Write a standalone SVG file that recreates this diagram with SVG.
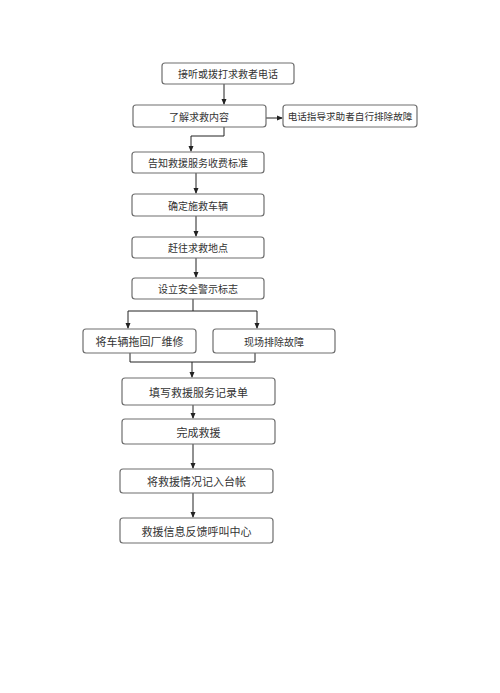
<svg xmlns="http://www.w3.org/2000/svg" width="500" height="693" viewBox="0 0 500 693">
<defs>
<marker id="ah" markerWidth="6" markerHeight="6" refX="5" refY="3" orient="auto" markerUnits="userSpaceOnUse">
<path d="M0,0.5 L6,3 L0,5.5 Z" fill="#222"/>
</marker>
<style>
.b{fill:#fff;stroke:#6e6e6e;stroke-width:1.2}
.t{font-family:"Noto Sans CJK SC","Noto Sans",sans-serif;font-size:10px;fill:#333;text-anchor:middle;dominant-baseline:central}
.l{font-size:11px}
.s{font-size:9.6px}
.c{fill:none;stroke:#222;stroke-width:1}
</style>
</defs>
<rect width="500" height="693" fill="#fff"/>
<g id="connectors">
<path class="c" d="M224,84 V104" marker-end="url(#ah)"/>
<path class="c" d="M266,118 H282" marker-end="url(#ah)"/>
<path class="c" d="M224,127 V136 H191 V151" marker-end="url(#ah)"/>
<path class="c" d="M196,173 V193" marker-end="url(#ah)"/>
<path class="c" d="M196,216 V236" marker-end="url(#ah)"/>
<path class="c" d="M196,258 V277" marker-end="url(#ah)"/>
<path class="c" d="M193,299 V311"/>
<path class="c" d="M128,311 H257"/>
<path class="c" d="M128,311 V328" marker-end="url(#ah)"/>
<path class="c" d="M257,311 V328" marker-end="url(#ah)"/>
<path class="c" d="M130,353 V362 H255 V353"/>
<path class="c" d="M192,362 V377" marker-end="url(#ah)"/>
<path class="c" d="M193,405 V418" marker-end="url(#ah)"/>
<path class="c" d="M193,444 V468" marker-end="url(#ah)"/>
<path class="c" d="M193,493 V517" marker-end="url(#ah)"/>
</g>
<g id="n1"><rect class="b" x="162" y="63" width="132" height="21" rx="3"/><text class="t" x="228" y="73.5">接听或拨打求救者电话</text></g>
<g id="n2"><rect class="b" x="133" y="105" width="133" height="22" rx="3"/><text class="t" x="199" y="116">了解求救内容</text></g>
<g id="n3"><rect class="b" x="283" y="105" width="134" height="22" rx="3"/><text class="t s" x="350" y="116">电话指导求助者自行排除故障</text></g>
<g id="n4"><rect class="b" x="132" y="152" width="132" height="21" rx="3"/><text class="t" x="198" y="162.5">告知救援服务收费标准</text></g>
<g id="n5"><rect class="b" x="132" y="194" width="132" height="22" rx="3"/><text class="t" x="198" y="205">确定施救车辆</text></g>
<g id="n6"><rect class="b" x="132" y="237" width="132" height="21" rx="3"/><text class="t" x="198" y="247.5">赶往求救地点</text></g>
<g id="n7"><rect class="b" x="132" y="278" width="132" height="21" rx="3"/><text class="t" x="198" y="288.5">设立安全警示标志</text></g>
<g id="n8"><rect class="b" x="83" y="329" width="113" height="24" rx="3"/><text class="t l" x="139.5" y="341">将车辆拖回厂维修</text></g>
<g id="n9"><rect class="b" x="213" y="329" width="122" height="24" rx="3"/><text class="t" x="274" y="341">现场排除故障</text></g>
<g id="n10"><rect class="b" x="122" y="378" width="153" height="27" rx="3"/><text class="t l" x="198.5" y="391.5">填写救援服务记录单</text></g>
<g id="n11"><rect class="b" x="122" y="419" width="153" height="25" rx="3"/><text class="t l" x="198.5" y="431.5">完成救援</text></g>
<g id="n12"><rect class="b" x="120" y="469" width="153" height="24" rx="3"/><text class="t l" x="196.5" y="481">将救援情况记入台帐</text></g>
<g id="n13"><rect class="b" x="120" y="518" width="153" height="25" rx="3"/><text class="t l" x="196.5" y="530.5">救援信息反馈呼叫中心</text></g>
</svg>
